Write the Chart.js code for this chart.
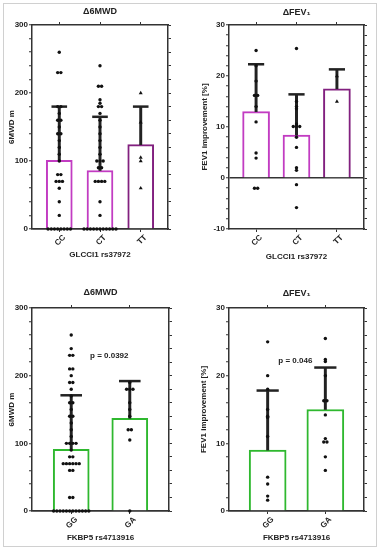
<!DOCTYPE html>
<html>
<head>
<meta charset="utf-8">
<script src="https://cdn.jsdelivr.net/npm/chart.js@4.4.1/dist/chart.umd.min.js"></script>
<style>
  html, body { margin: 0; padding: 0; background: #fff; }
  #wrap { position: relative; width: 381px; height: 550px; }
  #frame { position: absolute; left: 3px; top: 3px; width: 372px; height: 542px; border: 1px solid #d0d0d0; }
  canvas { position: absolute; }
</style>
</head>
<body>
<div id="wrap">
  <div id="frame"></div>
  <canvas id="c1" style="left:0;top:0" width="190" height="275"></canvas>
  <canvas id="c2" style="left:190px;top:0" width="191" height="275"></canvas>
  <canvas id="c3" style="left:0;top:275px" width="190" height="275"></canvas>
  <canvas id="c4" style="left:190px;top:275px" width="191" height="275"></canvas>
</div>
<script>
// GLCCI1 rs37972 genotypes
const glcciGenotypes = ['CC', 'CT', 'TT'];
const glcciMwdMean = [101, 86, 124];
const glcciMwdSd = [79, 79, 56];
const glcciMwdCC = [260, 230, 230, 180, 180, 170, 160, 160, 150, 140, 140, 130, 120, 110, 100, 80, 80, 70, 70, 70, 60, 40, 20, 0, 0, 0, 0, 0, 0, 0, 0];
const glcciMwdCT = [240, 210, 210, 190, 185, 180, 180, 170, 160, 150, 140, 130, 120, 110, 100, 100, 100, 90, 90, 70, 70, 70, 70, 40, 20, 0, 0, 0, 0, 0, 0, 0, 0, 0, 0, 0];
const glcciMwdTT = [200, 157, 105, 100, 60];

const glcciFevMean = [13, 8.4, 17.5];
const glcciFevSd = [9.3, 8.0, 3.8];
const glcciFevCC = [25, 22, 19, 16.2, 16.2, 14, 11, 4.9, 3.9, -2, -2];
const glcciFevCT = [25.4, 15, 14, 13.6, 10.6, 10.1, 10.1, 10.1, 8, 6, 2, 1.5, -1.3, -5.8];
const glcciFevTT = [20, 15];

// FKBP5 rs4713916 genotypes
const fkbpGenotypes = ['GG', 'GA'];
const fkbpMwdMean = [91, 137];
const fkbpMwdSd = [80, 55];
const fkbpMwdGG = [260, 240, 230, 230, 210, 210, 200, 190, 190, 180, 170, 160, 160, 150, 140, 140, 130, 120, 110, 100, 100, 100, 100, 90, 80, 80, 70, 70, 70, 70, 70, 70, 60, 60, 20, 20, 0, 0, 0, 0, 0, 0, 0, 0, 0, 0, 0, 0];
const fkbpMwdGA = [190, 180, 180, 180, 160, 150, 140, 120, 120, 105, 0];

const fkbpFevMean = [9, 15];
const fkbpFevSd = [8.8, 6.2];
const fkbpFevGG = [25, 20, 18, 15, 14, 13.8, 11, 5, 4, 2.2, 1.6];
const fkbpFevGA = [25.5, 22.4, 22.1, 20, 16.3, 16.3, 14.2, 10.7, 10.2, 10.2, 8, 6];

const FONT = '"Liberation Sans", Arial, sans-serif';
const AXIS = '#333';
const TEXT = '#222';
const PURPLE = '#c23cc2';
const DARK_PURPLE = '#82207f';
const GREEN = '#2fb82f';

// put equal values side by side like a column scatter
function spread(values, idx, step) {
    const counts = {}, seen = {};
    values.forEach(v => counts[v] = (counts[v] || 0) + 1);
    return values.map(v => {
        seen[v] = (seen[v] || 0) + 1;
        return { x: idx + (seen[v] - 1 - (counts[v] - 1) / 2) * step, y: v };
    });
}

// p-value text placed in data coordinates
const pLabel = {
    id: 'pLabel',
    afterDatasetsDraw(chart, args, opts) {
        if (!opts.text) return;
        const { ctx, scales } = chart;
        ctx.save();
        ctx.font = 'bold 8px ' + FONT;
        ctx.fillStyle = TEXT;
        ctx.textAlign = 'center';
        ctx.textBaseline = 'middle';
        ctx.fillText(opts.text, scales.x.getPixelForValue(opts.x), scales.y.getPixelForValue(opts.y));
        ctx.restore();
    }
};

function drawPanel(id, p) {
    const n = p.cats.length;
    const xMin = -0.67, xMax = n - 1 + 0.67;
    const plotW = p.w - p.box.left - p.box.right;
    const step = 3.2 * (xMax - xMin) / plotW;
    const fixTicks = s => { s.ticks = p.cats.map((c, i) => ({ value: i })); };
    const font8 = { family: FONT, size: 8, weight: 'bold' };

    const datasets = [
        {
            type: 'bar', order: 3, grouped: false,
            data: p.means.map((m, i) => ({ x: i, y: m })),
            backgroundColor: '#fff', borderColor: p.colors, borderWidth: 2,
            barThickness: p.barW
        },
        {
            type: 'bar', order: 2, grouped: false,
            data: p.means.map((m, i) => ({ x: i, y: [m, m + p.sds[i]] })),
            backgroundColor: '#222', borderWidth: 0, barThickness: 2.3
        },
        {
            type: 'scatter', order: 1, clip: false,
            data: p.means.map((m, i) => ({ x: i, y: m + p.sds[i] })),
            pointStyle: 'line', pointRadius: p.barW * 0.3, pointHoverRadius: p.barW * 0.3,
            pointBorderColor: '#222', pointBorderWidth: 2.5
        }
    ];
    p.groups.forEach((g, i) => {
        datasets.push({
            type: 'scatter', order: 0, clip: false,
            data: spread(g, i, step),
            pointStyle: p.marks[i], pointRadius: p.marks[i] === 'triangle' ? 2.3 : 1.7,
            pointBackgroundColor: '#111', pointBorderColor: '#111', pointBorderWidth: 0
        });
    });

    new Chart(document.getElementById(id), {
        type: 'bar',
        data: { datasets },
        plugins: [pLabel],
        options: {
            responsive: false,
            animation: false,
            events: [],
            layout: { padding: 0 },
            plugins: {
                legend: { display: false },
                tooltip: { enabled: false },
                pLabel: p.pText || {}
            },
            scales: {
                x: {
                    type: 'linear', position: 'bottom', min: xMin, max: xMax, offset: false,
                    afterBuildTicks: fixTicks,
                    afterFit: s => { s.height = p.box.bottom; },
                    border: { color: AXIS, width: 1.5 },
                    grid: { offset: false, drawOnChartArea: false, tickLength: 3, tickColor: AXIS, tickWidth: 1 },
                    ticks: {
                        callback: v => p.cats[v], font: font8, color: TEXT,
                        minRotation: 45, maxRotation: 45, padding: 1, labelOffset: 5, autoSkip: false
                    },
                    title: { display: true, text: p.xTitle, font: font8, color: TEXT, padding: { top: 0, bottom: p.xTitlePad } }
                },
                xTop: {
                    type: 'linear', position: 'top', min: xMin, max: xMax, offset: false,
                    afterBuildTicks: fixTicks,
                    afterFit: s => { s.height = p.box.top; },
                    border: { color: AXIS, width: 1.5 },
                    grid: { offset: false, drawOnChartArea: false, tickLength: 3, tickColor: AXIS, tickWidth: 1 },
                    ticks: { display: false },
                    title: { display: true, text: p.title, font: { family: FONT, size: 9, weight: 'bold' }, color: TEXT, padding: { top: p.titlePad, bottom: 0 } }
                },
                y: {
                    type: 'linear', position: 'left', min: p.yMin, max: p.yMax,
                    z: p.yMin < 0 ? 1 : 0,
                    afterFit: s => { s.width = p.box.left; },
                    border: { color: AXIS, width: 1.5 },
                    grid: {
                        color: ctx => ctx.tick && ctx.tick.value === 0 ? AXIS : 'rgba(0,0,0,0)',
                        lineWidth: 1.5, tickLength: 3, tickColor: AXIS, tickWidth: 1
                    },
                    ticks: {
                        stepSize: p.yStep, autoSkip: false, padding: 1, font: font8, color: TEXT,
                        callback: v => v % p.yLabelStep === 0 ? v : ''
                    },
                    title: { display: true, text: p.yTitle, font: font8, color: TEXT, padding: { top: p.yTitlePad, bottom: 0 } }
                },
                yRight: {
                    type: 'linear', position: 'right', min: p.yMin, max: p.yMax,
                    afterFit: s => { s.width = p.box.right; },
                    border: { color: AXIS, width: 1.5 },
                    grid: { drawOnChartArea: false, tickLength: 3, tickColor: AXIS, tickWidth: 1 },
                    ticks: { display: false, stepSize: p.yStep }
                }
            }
        }
    });
}

drawPanel('c1', {
    w: 190, box: { left: 32, right: 22, top: 25, bottom: 46 },
    cats: glcciGenotypes, means: glcciMwdMean, sds: glcciMwdSd,
    groups: [glcciMwdCC, glcciMwdCT, glcciMwdTT], marks: ['circle', 'circle', 'triangle'],
    colors: [PURPLE, PURPLE, DARK_PURPLE], barW: 26,
    yMin: 0, yMax: 300, yStep: 20, yLabelStep: 100,
    title: '\u03946MWD', titlePad: 6.6,
    yTitle: '6MWD m', yTitlePad: 6.5,
    xTitle: 'GLCCI1 rs37972', xTitlePad: 15
});

drawPanel('c2', {
    w: 191, box: { left: 39, right: 17, top: 25, bottom: 46 },
    cats: glcciGenotypes, means: glcciFevMean, sds: glcciFevSd,
    groups: [glcciFevCC, glcciFevCT, glcciFevTT], marks: ['circle', 'circle', 'triangle'],
    colors: [PURPLE, PURPLE, DARK_PURPLE], barW: 27,
    yMin: -10, yMax: 30, yStep: 2, yLabelStep: 10,
    title: '\u0394FEV\u2081', titlePad: 7.5,
    yTitle: 'FEV1 improvement [%]', yTitlePad: 10,
    xTitle: 'GLCCI1 rs37972', xTitlePad: 13.5
});

drawPanel('c3', {
    w: 190, box: { left: 32, right: 21, top: 33, bottom: 39 },
    cats: fkbpGenotypes, means: fkbpMwdMean, sds: fkbpMwdSd,
    groups: [fkbpMwdGG, fkbpMwdGA], marks: ['circle', 'circle'],
    colors: [GREEN, GREEN], barW: 36,
    yMin: 0, yMax: 300, yStep: 20, yLabelStep: 100,
    title: '\u03946MWD', titlePad: 12,
    yTitle: '6MWD m', yTitlePad: 7,
    xTitle: 'FKBP5 rs4713916', xTitlePad: 7,
    pText: { text: 'p = 0.0392', x: 0.65, y: 229 }
});

drawPanel('c4', {
    w: 191, box: { left: 39, right: 17, top: 33, bottom: 39 },
    cats: fkbpGenotypes, means: fkbpFevMean, sds: fkbpFevSd,
    groups: [fkbpFevGG, fkbpFevGA], marks: ['circle', 'circle'],
    colors: [GREEN, GREEN], barW: 37,
    yMin: 0, yMax: 30, yStep: 2, yLabelStep: 10,
    title: '\u0394FEV\u2081', titlePad: 13,
    yTitle: 'FEV1 improvement [%]', yTitlePad: 9,
    xTitle: 'FKBP5 rs4713916', xTitlePad: 7,
    pText: { text: 'p = 0.046', x: 0.48, y: 22.2 }
});
</script>
</body>
</html>
